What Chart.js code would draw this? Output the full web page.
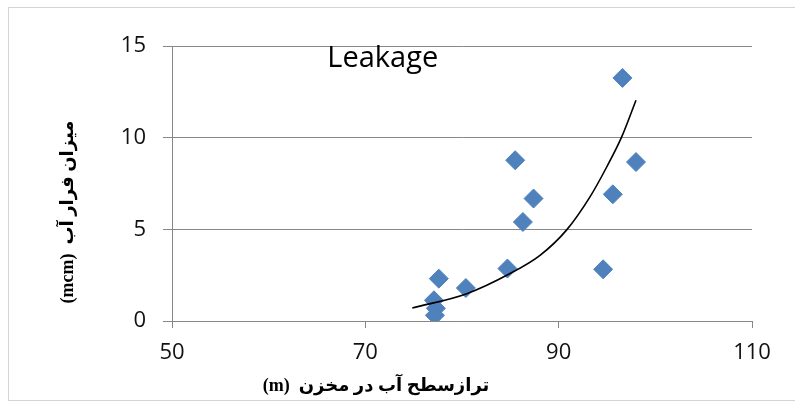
<!DOCTYPE html>
<html>
<head>
<meta charset="utf-8">
<script src="https://cdn.jsdelivr.net/npm/chart.js@4.4.0/dist/chart.umd.min.js"></script>
<style>
  body { margin: 0; background: #fff; overflow: hidden; }
  #wrap { position: relative; width: 795px; height: 405px; }
  #frame { position: absolute; left: 8px; top: 7px; width: 820px; height: 392px; border: 1px solid #d4d4d4; }
  #chart { position: absolute; left: 0; top: 0; }
</style>
</head>
<body>
<div id="wrap">
  <div id="frame"></div>
  <canvas id="chart" width="795" height="405"></canvas>
</div>
<script>
// water level (m) vs leakage (mcm)
const level   = [96.6, 98.0, 85.5, 87.4, 95.6, 86.3, 84.7, 94.6, 77.6, 80.4, 77.1, 77.3, 77.2];
const leakage = [13.26, 8.67, 8.77, 6.68, 6.91, 5.40, 2.86, 2.82, 2.31, 1.80, 1.13, 0.69, 0.31];

// trend curve
const trendX = [74.86, 80.49, 84.97, 88.07, 90.83, 93.24, 94.97, 96.52, 98.0];
const trendY = [0.71, 1.49, 2.59, 3.58, 4.97, 6.77, 8.40, 10.04, 12.04];

const xTicks = [50, 70, 90, 110];
const yTicks = [0, 5, 10, 15];

const gray = '#878787';
const tickFont = { family: 'Open Sans', size: 22 };

const overlay = {
  id: 'overlay',
  afterDraw(chart) {
    const c = chart.ctx;
    const xs = chart.scales.x, ys = chart.scales.y;
    c.save();
    c.fillStyle = '#000';
    c.font = '29px "Open Sans"';
    c.textAlign = 'center';
    c.textBaseline = 'alphabetic';
    c.fillText('Leakage', xs.getPixelForValue(71.8), ys.getPixelForValue(13.83));

    c.font = 'bold 18px "Liberation Serif", "DejaVu Sans"';
    c.textBaseline = 'middle';
    c.fillText('(m)  ترازسطح آب در مخزن', 376, 386);

    c.translate(68, 212);
    c.rotate(-Math.PI / 2);
    c.fillText('(mcm)  میزان فرار آب', 0, 0);
    c.restore();
  }
};

new Chart(document.getElementById('chart'), {
  type: 'scatter',
  data: {
    datasets: [{
      data: level.map((x, i) => ({ x: x, y: leakage[i] })),
      pointStyle: 'rectRot',
      pointRadius: 9.5,
      pointHoverRadius: 9.5,
      backgroundColor: '#4F81BD',
      borderColor: '#4F81BD',
      borderWidth: 1,
      order: 2
    }, {
      type: 'line',
      data: trendX.map((x, i) => ({ x: x, y: trendY[i] })),
      borderColor: '#000',
      borderWidth: 1.6,
      pointRadius: 0,
      fill: false,
      cubicInterpolationMode: 'monotone',
      order: 1
    }]
  },
  options: {
    responsive: false,
    animation: false,
    layout: { padding: { top: 46, right: 43, left: 0, bottom: 0 } },
    plugins: {
      legend: { display: false },
      tooltip: { enabled: false }
    },
    scales: {
      x: {
        type: 'linear',
        min: 50, max: 110,
        afterBuildTicks: (s) => { s.ticks = xTicks.map(v => ({ value: v })); },
        afterFit: (s) => { s.height = 84; },
        grid: { drawOnChartArea: false, color: gray, tickLength: 7 },
        border: { color: gray, width: 1 },
        ticks: { color: '#111', font: tickFont, padding: 12, maxRotation: 0 }
      },
      y: {
        min: 0, max: 15,
        afterBuildTicks: (s) => { s.ticks = yTicks.map(v => ({ value: v })); },
        afterFit: (s) => { s.width = 172; },
        grid: { color: gray, tickLength: 9 },
        border: { color: gray, width: 1 },
        ticks: { color: '#111', font: tickFont, padding: 17 }
      }
    }
  },
  plugins: [overlay]
});
</script>
</body>
</html>
